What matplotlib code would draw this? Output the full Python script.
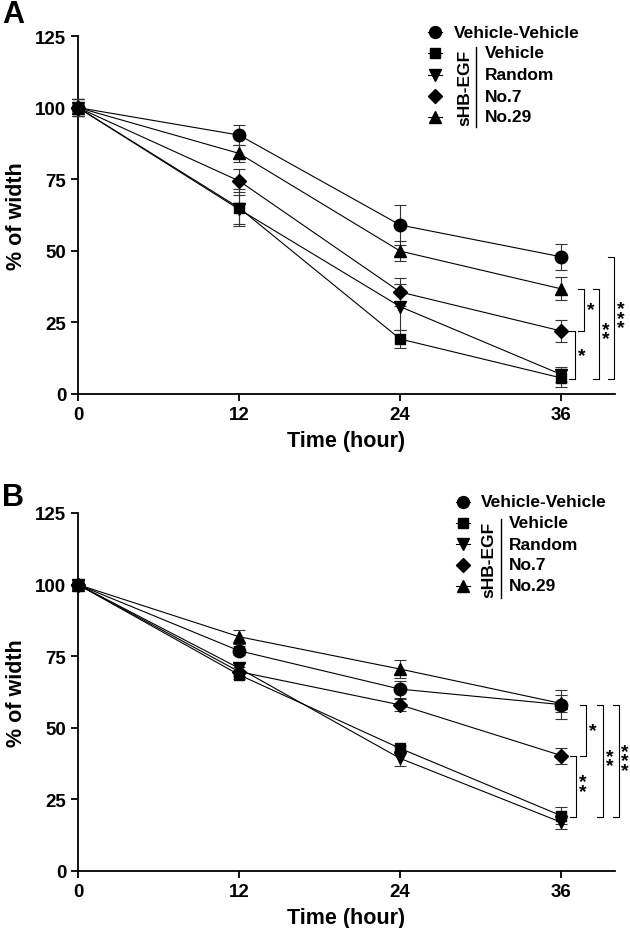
import matplotlib
matplotlib.use('Agg')
import matplotlib.pyplot as plt
from matplotlib.lines import Line2D

plt.rcParams['font.family'] = ['Liberation Sans', 'DejaVu Sans']
plt.rcParams['font.weight'] = 'bold'
plt.rcParams['axes.labelweight'] = 'bold'

W, H = 630, 929

time = [0, 12, 24, 36]
labels = ['Vehicle-Vehicle', 'Vehicle', 'Random', 'No.7', 'No.29']
markers = ['o', 's', 'v', 'D', '^']
msizes = [9, 7.5, 8.5, 7, 8.5]

# Panel A (% of width, mean and error)
a_vv = [100, 90.4, 59.0, 47.9]
a_veh = [100, 65.0, 19.2, 5.6]
a_rnd = [100, 64.5, 30.5, 6.8]
a_no7 = [100, 74.4, 35.6, 22.0]
a_no29 = [100, 84.0, 49.9, 36.7]
a_vv_err = [3, 3.5, 7, 4.5]
a_veh_err = [3, 6.5, 3, 3]
a_rnd_err = [3, 5, 8, 2.5]
a_no7_err = [3, 4, 5, 4]
a_no29_err = [3, 3, 3.5, 4]

# Panel B
b_vv = [100, 76.9, 63.5, 58.1]
b_veh = [100, 68.5, 42.8, 19.3]
b_rnd = [100, 70.8, 39.3, 17.0]
b_no7 = [100, 69.6, 58.0, 40.3]
b_no29 = [100, 81.8, 70.5, 58.5]
b_vv_err = [1.5, 1.5, 3, 5]
b_veh_err = [1.5, 1.5, 1, 3]
b_rnd_err = [1.5, 2, 2.5, 2.5]
b_no7_err = [1.5, 1.5, 2, 2.8]
b_no29_err = [1.5, 2.5, 3, 3]


def fig_xy(px, py):
    return px / W, 1 - py / H


def draw_panel(ax, series, errs):
    for vals, err, m, ms in zip(series, errs, markers, msizes):
        ax.errorbar(time, vals, yerr=err, color='black', ecolor='#333333',
                    marker=m, markersize=ms, linewidth=0.8, elinewidth=0.8,
                    capsize=4, capthick=0.8, clip_on=False, zorder=3)
    ax.set_xlim(0, 40)
    ax.set_ylim(0, 125)
    ax.set_xticks([0, 12, 24, 36])
    ax.set_yticks([0, 25, 50, 75, 100, 125])
    ax.spines['top'].set_visible(False)
    ax.spines['right'].set_visible(False)
    for s in ['left', 'bottom']:
        ax.spines[s].set_linewidth(1.3)
    ax.tick_params(width=1.3, length=5, labelsize=13.5)
    ax.set_xlabel('Time (hour)', fontsize=15.5, fontweight='bold', labelpad=5)
    ax.set_ylabel('% of width', fontsize=15.5, fontweight='bold', labelpad=6)


def bracket(ax, x, y1, y2, n_stars, dx=0.5):
    tick = 0.45
    ax.plot([x - tick, x, x, x - tick], [y1, y1, y2, y2], color='black',
            linewidth=0.8, clip_on=False)
    # stars stacked vertically like the rotated labels of the original
    ax.text(x + dx, (y1 + y2) / 2, '\n'.join(['*'] * n_stars), ha='center',
            va='center', fontsize=14, fontweight='bold', linespacing=0.42,
            clip_on=False)


def legend(fig, mx, ys, tx_vv, tx, vline_x, vline_y, grp_x):
    for i, (lab, m, ms) in enumerate(zip(labels, markers, msizes)):
        x0, y0 = fig_xy(mx - 7, ys[i])
        x1, _ = fig_xy(mx + 7, ys[i])
        fig.add_artist(Line2D([x0, x1], [y0, y0], color='black', linewidth=0.8))
        xc, yc = fig_xy(mx, ys[i])
        fig.add_artist(Line2D([xc], [yc], marker=m, markersize=ms * 0.95,
                              color='black', linestyle='none'))
        tx_i = tx_vv if i == 0 else tx
        x_t, y_t = fig_xy(tx_i, ys[i])
        fig.text(x_t, y_t, lab, fontsize=12.5, fontweight='bold',
                 ha='left', va='center')
    lx, ly0 = fig_xy(vline_x, vline_y[0])
    _, ly1 = fig_xy(vline_x, vline_y[1])
    fig.add_artist(Line2D([lx, lx], [ly0, ly1], color='black', linewidth=1))
    gx, gy = fig_xy(grp_x, (vline_y[0] + vline_y[1]) / 2)
    fig.text(gx, gy, 'sHB-EGF', rotation=90, fontsize=12.5, fontweight='bold',
             ha='center', va='center')


fig = plt.figure(figsize=(6.3, 9.29), dpi=100)

axA = fig.add_axes([78 / W, 1 - 395 / H, (615 - 78) / W, (395 - 37) / H])
draw_panel(axA, [a_vv, a_veh, a_rnd, a_no7, a_no29],
           [a_vv_err, a_veh_err, a_rnd_err, a_no7_err, a_no29_err])
bracket(axA, 37.7, a_no29[-1], a_no7[-1], 1)
bracket(axA, 37.05, a_no7[-1], a_veh[-1] - 0.5, 1)
bracket(axA, 38.8, a_no29[-1], a_veh[-1] - 0.5, 2)
bracket(axA, 39.9, a_vv[-1], a_veh[-1] - 0.5, 3)

axB = fig.add_axes([78 / W, 1 - 872 / H, (615 - 78) / W, (872 - 514) / H])
draw_panel(axB, [b_vv, b_veh, b_rnd, b_no7, b_no29],
           [b_vv_err, b_veh_err, b_rnd_err, b_no7_err, b_no29_err])
bracket(axB, 37.85, b_vv[-1], b_no7[-1], 1)
bracket(axB, 37.1, b_no7[-1], b_veh[-1] - 0.5, 2)
bracket(axB, 39.1, b_vv[-1], b_veh[-1] - 0.5, 2)
bracket(axB, 40.3, b_vv[-1], b_veh[-1] - 0.5, 3, dx=0.45)

legend(fig, 435, [33, 54, 76, 97, 118], 454, 485, 476, (48, 128), 465)
legend(fig, 463, [503, 524, 545, 566, 587], 481, 509, 501, (520, 599), 489)

fig.text(*fig_xy(2, 15), 'A', fontsize=22, fontweight='bold', ha='left', va='center')
fig.text(*fig_xy(2, 498), 'B', fontsize=22, fontweight='bold', ha='left', va='center')

fig.savefig('out.png', dpi=100)
